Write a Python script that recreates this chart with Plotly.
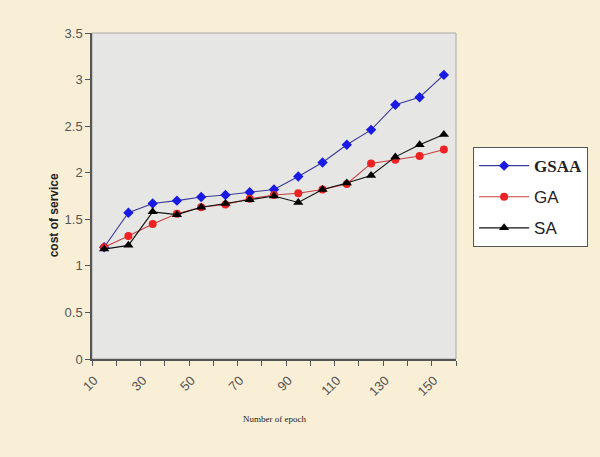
import plotly.graph_objects as go

epochs = [10, 20, 30, 40, 50, 60, 70, 80, 90, 100, 110, 120, 130, 140, 150]
gsaa = [1.20, 1.57, 1.67, 1.70, 1.74, 1.76, 1.79, 1.82, 1.96, 2.11, 2.30, 2.46, 2.73, 2.81, 3.05]
ga = [1.20, 1.32, 1.45, 1.56, 1.63, 1.66, 1.72, 1.76, 1.78, 1.82, 1.88, 2.10, 2.14, 2.18, 2.25]
sa = [1.18, 1.22, 1.58, 1.55, 1.63, 1.67, 1.71, 1.75, 1.68, 1.82, 1.89, 1.97, 2.17, 2.30, 2.41]
xlabels = [10, 30, 50, 70, 90, 110, 130, 150]
yticks = [0, 0.5, 1, 1.5, 2, 2.5, 3, 3.5]

fig = go.Figure()
fig.add_trace(go.Scatter(
    x=epochs, y=gsaa, mode="lines+markers",
    name='<span style="font-family:Liberation Serif, Times New Roman, serif"><b>GSAA</b></span>',
    line=dict(color="#3a3a9a", width=1.1),
    marker=dict(symbol="diamond", size=8, color="#1a1ae6"),
    legendgroup="a"))
fig.add_trace(go.Scatter(
    x=epochs, y=ga, mode="lines+markers", name="GA",
    line=dict(color="#c84040", width=1.1),
    marker=dict(symbol="circle", size=8, color="#ee2222"),
    legendgroup="b"))
fig.add_trace(go.Scatter(
    x=epochs, y=sa, mode="lines+markers", name="SA",
    line=dict(color="#111111", width=1.1),
    marker=dict(symbol="triangle-up", size=9, color="#000000"),
    legendgroup="c"))

minor_vals = [e - 5 for e in epochs] + [epochs[-1] + 5]

fig.update_layout(
    width=600, height=457,
    margin=dict(l=92, r=144, t=33, b=98),
    paper_bgcolor="#f8efd6",
    plot_bgcolor="#e6e6e4",
    font=dict(family="Arial, Liberation Sans, sans-serif", color="#444444", size=12),
    xaxis=dict(
        range=[5, 155], tickvals=xlabels, ticktext=[str(v) for v in xlabels],
        tickangle=-45, ticks="", showgrid=False, zeroline=False,
        showline=True, linecolor="#555555", linewidth=1.5,
        tickfont=dict(size=13, color="#555555"),
        ticklabelshift=-10, ticklabelstandoff=7,
        minor=dict(tickvals=minor_vals, ticks="outside", ticklen=5, tickcolor="#555555", showgrid=False),
    ),
    yaxis=dict(
        range=[0, 3.5], tickvals=yticks, ticks="outside", ticklen=5, tickcolor="#555555",
        showgrid=False, zeroline=False, showline=True, linecolor="#555555", linewidth=1.5,
        tickfont=dict(size=13, color="#555555"),
    ),
    legend=dict(
        x=1.047, y=0.65, xanchor="left", yanchor="top",
        bgcolor="#ffffff", bordercolor="#555555", borderwidth=1,
        font=dict(size=17, color="#222222", family="Arial, Liberation Sans, sans-serif"),
        tracegroupgap=6, itemwidth=50,
    ),
    shapes=[dict(type="rect", xref="paper", yref="paper", x0=0, y0=0, x1=1, y1=1,
                 line=dict(color="#a8a8a8", width=1), layer="below")],
    annotations=[
        dict(text="<b>cost of service</b>", xref="paper", yref="paper", x=-0.105, y=0.44,
             xanchor="center", yanchor="middle",
             textangle=-90, showarrow=False, font=dict(size=12, color="#222222")),
        dict(text="Number of epoch", xref="paper", yref="paper", x=0.5, y=-0.185,
             showarrow=False, yanchor="middle",
             font=dict(size=9, color="#222222", family="Liberation Serif, Times New Roman, serif")),
    ],
)

fig.write_html("out.html")
